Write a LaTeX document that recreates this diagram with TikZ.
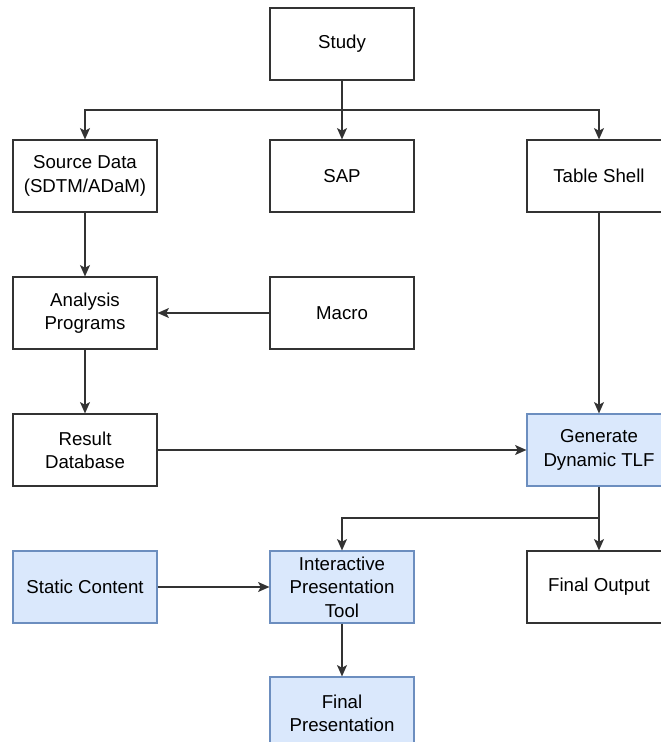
\documentclass[tikz,border=0pt]{standalone}
\usepackage{fontspec}
\setmainfont{Liberation Sans}
\usepackage{xcolor}
\usepackage{tikz}
\usetikzlibrary{arrows.meta}
\usetikzlibrary{positioning}
\usetikzlibrary{shapes}

\definecolor{lineGray}{HTML}{333333}
\definecolor{boxBlue}{HTML}{DAE8FC}
\definecolor{edgeBlue}{HTML}{6C8EBF}

\begin{document}
\begin{tikzpicture}[x=0.75pt, y=-0.75pt,
  box/.style={rectangle, draw=lineGray, line width=0.9pt, fill=white,
    minimum width=108pt, minimum height=54pt, inner sep=0pt,
    align=center, font=\fontsize{14}{17.5}\selectfont},
  bluebox/.style={box, draw=edgeBlue, fill=boxBlue},
  arr/.style={-{Stealth[length=8.5pt, width=7.5pt, inset=2pt]},
    draw=lineGray, line width=0.9pt}]
\useasboundingbox (0, 0) rectangle (660, 742);
% top row
\node [box] (Study) at (342, 44) {Study};
\node [box] (Source) at (85, 176) {Source Data\\(SDTM/ADaM)};
\node [box] (SAP) at (342, 176) {SAP};
\node [box] (Shell) at (599, 176) {Table Shell};
% analysis chain
\node [box] (Analysis) at (85, 313) {Analysis\\Programs};
\node [box] (Macro) at (342, 313) {Macro};
\node [box] (Result) at (85, 450) {Result\\Database};
\node [bluebox] (Gen) at (599, 450) {Generate\\Dynamic TLF};
% outputs
\node [bluebox] (Static) at (85, 587) {Static Content};
\node [bluebox] (Tool) at (342, 587) {Interactive\\Presentation\\Tool};
\node [box] (Output) at (599, 587) {Final Output};
\node [bluebox] (Pres) at (342, 713) {Final\\Presentation};
\coordinate (split) at (342, 110);
\coordinate (fork) at (599, 518);
\draw [arr] (Study) to (SAP);
\draw [arr] (split) -| (Source);
\draw [arr] (split) -| (Shell);
\draw [arr] (Source) to (Analysis);
\draw [arr] (Macro) to (Analysis);
\draw [arr] (Analysis) to (Result);
\draw [arr] (Shell) to (Gen);
\draw [arr] (Result) to (Gen);
\draw [arr] (Gen) to (Output);
\draw [arr] (fork) -| (Tool);
\draw [arr] (Static) to (Tool);
\draw [arr] (Tool) to (Pres);
\end{tikzpicture}
\end{document}
